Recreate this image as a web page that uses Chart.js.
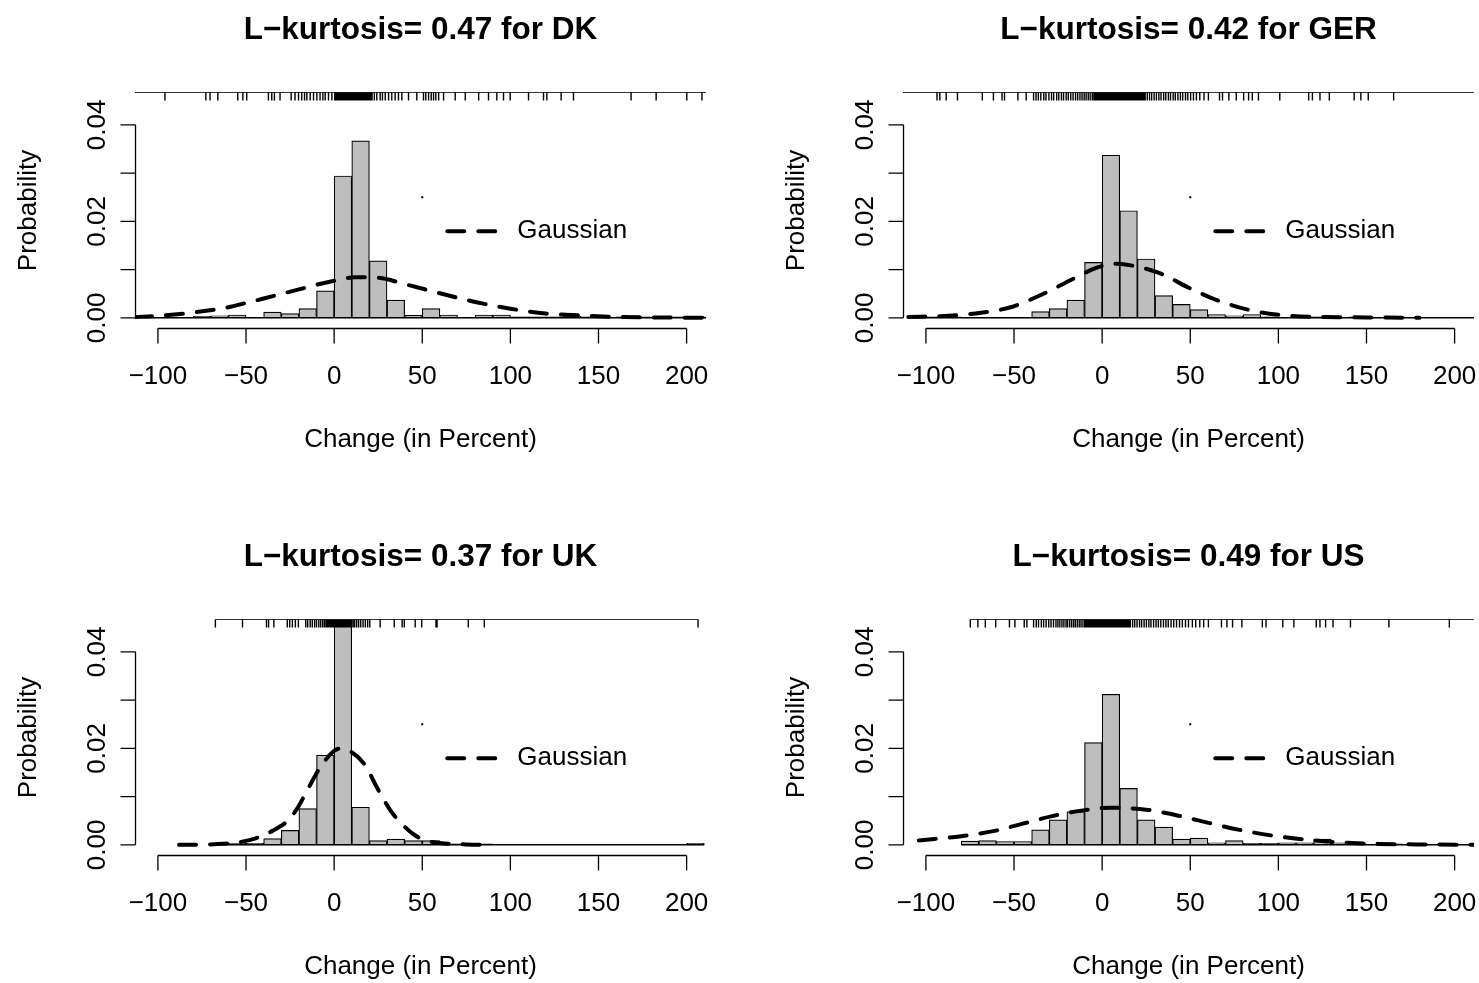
<!DOCTYPE html>
<html>
<head>
<meta charset="utf-8">
<script src="https://cdn.jsdelivr.net/npm/chart.js@4/dist/chart.umd.min.js"></script>
<style>
    html, body { margin: 0; padding: 0; background: #fff; }
    #wrap { position: relative; width: 1479px; height: 983px; }
    canvas { position: absolute; }
</style>
</head>
<body>
<div id="wrap">
    <canvas id="dk" width="711" height="456" style="left:0;top:0"></canvas>
    <canvas id="ger" width="711" height="456" style="left:768px;top:0"></canvas>
    <canvas id="uk" width="711" height="456" style="left:0;top:527px"></canvas>
    <canvas id="us" width="711" height="456" style="left:768px;top:527px"></canvas>
</div>
<script>

// axis ticks shared by all four panels
const TICKS_X = [-100, -50, 0, 50, 100, 150, 200]
const TICKS_Y = [0, 0.01, 0.02, 0.03, 0.04]
const LABELS_Y = ['0.00', '', '0.02', '', '0.04']

// DK
const DK_BREAKS = [-120, -110, -100, -90, -80, -70, -60, -50, -40, -30, -20, -10, 0, 10, 20, 30, 40, 50, 60, 70, 80, 90, 100, 110, 120, 130, 140, 150, 160, 170, 180, 190, 200, 210, 220]
const DK_DENSITY = [0.0001, 0.0001, 0.0001, 0.0001, 0.0003, 0.0004, 0.0006, 0.0001, 0.0012, 0.0009, 0.0019, 0.0056, 0.0294, 0.0367, 0.0118, 0.0037, 0.0005, 0.0019, 0.0006, 0.0001, 0.0006, 0.0006, 0.0002, 0.0002, 0.0002, 0.0003, 0.0002, 0.0001, 0.0002, 0.0002, 0.0001, 0.0002, 0.0003, 0.0001]
const DK_GAUSS_X = [-113, -100, -80, -60, -50, -40, -20, 0, 12, 25, 40, 60, 80, 100, 120, 140, 160, 180, 211]
const DK_GAUSS_Y = [0.0002, 0.0004, 0.0011, 0.0022, 0.0031, 0.0040, 0.0059, 0.0077, 0.0084, 0.0083, 0.0070, 0.0051, 0.0033, 0.0019, 0.0009, 0.0005, 0.0002, 0.0001, 0.0]
const DK_RUG = [-125, -96, -72.8, -70.4, -66, -54.7, -51.8, -49.6, -37.3, -35.4, -33.9, -30.7, -24.4, -22.2, -20.2, -18.4, -16.8, -15.5, -13.6, -11.7, -9.8, -8, -6.4, -5.1, -3.2, -1.3,
    0.3, 0.8, 1.2, 1.9, 2.3, 3.0, 3.4, 4.1, 4.5, 5.3, 5.6, 6.2, 6.9, 7.3, 8.0, 8.4, 9.2, 9.5, 10.1, 10.8, 11.2, 11.9, 12.5, 12.9, 13.6, 14.0, 14.7, 15.1, 15.8, 16.4, 16.8, 17.5, 17.9, 18.6, 19.0, 19.7, 20.3, 20.9, 21.5,
    22.8, 24.2, 26.1, 27.4, 29, 30.9, 32.7, 34.6, 36.5, 38.4, 42.2, 46.9, 50.7, 52, 53.6, 55.1, 56.4, 57.7, 59.3, 62.1, 68.7, 74.4, 82, 87.6, 92.3, 96.1, 99.9, 110.3, 118.8, 120.7, 128.8, 135.8, 168.5, 182.7, 200.1, 208.7, 260]

// GER
const GER_BREAKS = [-110, -100, -90, -80, -70, -60, -50, -40, -30, -20, -10, 0, 10, 20, 30, 40, 50, 60, 70, 80, 90, 100, 110, 120, 130, 140, 150, 160, 170, 180, 190, 200, 210, 220]
const GER_DENSITY = [0.0002, 0.0002, 0.0002, 0.0001, 0.0001, 0.0001, 0.0001, 0.0013, 0.0019, 0.0037, 0.0115, 0.0337, 0.0222, 0.0122, 0.0046, 0.0028, 0.0017, 0.0007, 0.0004, 0.0007, 0.0002, 0.0001, 0.0002, 0.0002, 0.0001, 0.0002, 0.0001, 0.0001, 0.0001, 0, 0, 0, 0]
const GER_GAUSS_X = [-110, -90, -72, -52, -35, -18, -3, 8, 20, 33, 50, 65, 85, 101, 120, 150, 180]
const GER_GAUSS_Y = [0.0002, 0.0004, 0.0009, 0.0022, 0.0047, 0.0078, 0.0104, 0.0112, 0.0106, 0.0092, 0.0061, 0.0037, 0.0015, 0.0006, 0.0002, 0.0001, 0.0]
const GER_RUG = [-130, -93.7, -92.1, -88.5, -82.1, -68, -61.7, -56.8, -55.4, -47.8, -43.1,
    -38.9, -37.5, -36.2, -34.8, -33.1, -31.9, -30.2, -28.7, -27.5, -25.8, -24.6, -23.1, -21.9, -20.4, -19.2, -17.8, -16.5, -15.1, -13.9, -12.6, -11.4, -10.2, -9.1, -7.9, -6.8, -5.6,
    -4.7, -3.9, -3.2, -2.5, -1.8, -1.1, -0.5, 0.2, 0.8, 1.5, 2.1, 2.8, 3.4, 4.0, 4.7, 5.3, 5.9, 6.6, 7.2, 7.8, 8.5, 9.1, 9.7, 10.4, 11.0, 11.6, 12.3, 12.9, 13.5, 14.2, 14.8, 15.4, 16.1, 16.7, 17.3, 18.0, 18.6, 19.2, 19.9, 20.5, 21.1, 21.8, 22.4, 23.0, 23.7, 24.4,
    25.6, 26.9, 28.1, 29.5, 30.8, 32.2, 33.4, 34.9, 36.1, 37.6, 38.8, 40.3, 41.5, 43.0, 44.4, 45.7, 47.3, 48.6, 50.2, 51.8, 53.5, 55.4, 57.8, 60.3,
    66.6, 68.3, 71.9, 76.1, 80.3, 83.1, 85.2, 88.7, 100.8, 117.2, 119.3, 123.6, 128.9, 143, 146.8, 151, 165.4, 230]

// UK
const UK_BREAKS = [-70, -60, -50, -40, -30, -20, -10, 0, 10, 20, 30, 40, 50, 60, 70, 80, 90, 100, 110, 120, 130, 140, 150, 160, 170, 180, 190, 200, 210]
const UK_DENSITY = [0.0002, 0.0003, 0.0003, 0.0013, 0.0030, 0.0075, 0.0186, 0.0600, 0.0078, 0.0009, 0.0012, 0.0009, 0.0009, 0.0002, 0.0002, 0.0002, 0, 0, 0, 0, 0, 0, 0, 0, 0, 0, 0, 0.0003]
const UK_GAUSS_X = [-88, -70, -55, -45, -35, -27, -21, -15, -8, 0, 4, 10, 17, 25, 32, 38, 45, 52, 60, 75, 90]
const UK_GAUSS_Y = [0.0, 0.0001, 0.0005, 0.0013, 0.0029, 0.0048, 0.0075, 0.0115, 0.0160, 0.0195, 0.0200, 0.0192, 0.0168, 0.0114, 0.0071, 0.0045, 0.0022, 0.0009, 0.0004, 0.0001, 0.0]
const UK_RUG = [-67.4, -52, -38.4, -37.2, -34.2, -26.6, -25.2, -23.7, -22, -20.3,
    -16.1, -15.0, -13.6, -12.4, -11.1, -10.0, -8.7, -7.6, -6.5, -5.5, -4.6, -3.8, -3.0, -2.3, -1.6, -0.9, -0.3, 0.3, 0.9, 1.6, 2.2, 2.9, 3.5, 4.2, 4.8, 5.5, 6.1, 6.8, 7.5, 8.3, 9.1, 9.9, 10.8, 11.7, 12.8, 13.9, 15.1, 16.4, 17.7, 19.0, 20.2,
    26.1, 34.1, 38.6, 39.8, 46, 49.7, 57.8, 58.4, 76.1, 85.2, 206.5]

// US
const US_BREAKS = [-80, -70, -60, -50, -40, -30, -20, -10, 0, 10, 20, 30, 40, 50, 60, 70, 80, 90, 100, 110, 120, 130, 140, 150, 160, 170, 180, 190, 200, 210, 220]
const US_DENSITY = [0.0008, 0.0009, 0.0007, 0.0007, 0.0031, 0.0052, 0.0069, 0.0212, 0.0312, 0.0117, 0.0052, 0.0037, 0.0012, 0.0014, 0.0004, 0.0009, 0.0003, 0.0003, 0.0004, 0.0004, 0.0012, 0.0004, 0.0002, 0.0001, 0.0002, 0.0001, 0.0001, 0.0002, 0.0001, 0.0001]
const US_GAUSS_X = [-104, -78, -61, -46, -29, -10, 5, 25, 44, 61, 78, 97, 115, 136, 157, 179, 211]
const US_GAUSS_Y = [0.0009, 0.0019, 0.0029, 0.0043, 0.0059, 0.0072, 0.0077, 0.0073, 0.0060, 0.0045, 0.0031, 0.0019, 0.0011, 0.0005, 0.0002, 0.0001, 0.0]
const US_RUG = [-74.8, -70.5, -66.3, -60.4, -52.6, -49.5, -44.2, -42.7, -38.9, -37.4, -36.1, -34.5, -33.2, -31.8, -30.3, -29.0, -27.6, -26.2,
    -25.1, -24.0, -22.8, -21.7, -20.5, -19.6, -18.4, -17.3, -16.2, -15.2, -14.1, -13.0, -12.0, -10.9, -9.9, -9.3,
    -8.6, -8.0, -7.3, -6.7, -6.0, -5.4, -4.7, -4.1, -3.4, -2.8, -2.1, -1.5, -0.8, -0.2, 0.5, 1.1, 1.8, 2.4, 3.1, 3.7, 4.4, 5.0, 5.7, 6.3, 7.0, 7.6, 8.3, 8.9, 9.6, 10.2, 10.9, 11.5, 12.2, 12.8, 13.5, 14.1, 14.8, 15.4, 16.0,
    17.3, 18.5, 19.8, 21.2, 22.4, 23.8, 25.1, 26.5, 27.7, 29.2, 30.6, 31.9, 33.3, 34.8, 36.2, 37.5, 39.1, 40.6, 42.2, 43.9, 45.5, 47.3, 49.0, 51.2, 53.1, 55.4, 57.6, 60.3,
    67.7, 70.8, 74, 79.3, 90.9, 93, 102.5, 108.8, 121.5, 123.6, 126.8, 131, 140.9, 162.7, 197, 240]

const FONT = '"Liberation Sans", Arial, sans-serif'
const GAUSS_DASH = [17, 14]
const GAUSS_WIDTH = 4

// R-style axes, rug, legend and title, drawn around the plot area
const rPlotPlugin = {

    id: 'rPlot',

    afterDatasetsDraw(chart, args, opts) {

        const ctx = chart.ctx
        const area = chart.chartArea
        const xs = chart.scales.x
        const ys = chart.scales.y
        const y0 = ys.getPixelForValue(0)

        ctx.save()
        ctx.beginPath()
        ctx.rect(area.left, area.top - 2, area.right - area.left, area.bottom - area.top + 2)
        ctx.clip()

        // empty histogram cells show as a flat line
        ctx.strokeStyle = '#000'
        ctx.lineWidth = 1.5
        ctx.beginPath()
        ctx.moveTo(xs.getPixelForValue(opts.breaks[0]), y0)
        ctx.lineTo(xs.getPixelForValue(opts.breaks[opts.breaks.length - 1]), y0)
        ctx.stroke()

        // rug on top side
        const rugY = area.top - 0.5
        ctx.strokeStyle = '#333'
        ctx.lineWidth = 1
        ctx.beginPath()
        ctx.moveTo(xs.getPixelForValue(Math.min(...opts.rug)), rugY)
        ctx.lineTo(xs.getPixelForValue(Math.max(...opts.rug)), rugY)
        ctx.stroke()
        ctx.strokeStyle = '#000'
        ctx.lineWidth = 1.4
        ctx.beginPath()
        opts.rug.forEach(v => {
            const px = xs.getPixelForValue(v)
            ctx.moveTo(px, rugY)
            ctx.lineTo(px, rugY + 8)
        })
        ctx.stroke()
        ctx.restore()

        ctx.save()
        ctx.strokeStyle = '#000'
        ctx.fillStyle = '#000'
        ctx.lineWidth = 1.3

        // x axis
        const ax = area.bottom + 0.5
        ctx.beginPath()
        ctx.moveTo(xs.getPixelForValue(TICKS_X[0]), ax)
        ctx.lineTo(xs.getPixelForValue(TICKS_X[TICKS_X.length - 1]), ax)
        TICKS_X.forEach(t => {
            const px = xs.getPixelForValue(t)
            ctx.moveTo(px, ax)
            ctx.lineTo(px, ax + 15)
        })
        ctx.stroke()
        ctx.font = '26px ' + FONT
        ctx.textAlign = 'center'
        ctx.textBaseline = 'middle'
        TICKS_X.forEach(t => {
            ctx.fillText(String(t).replace('-', '\u2212'), xs.getPixelForValue(t), area.bottom + 49)
        })

        // y axis
        const ay = area.left + 0.5
        ctx.beginPath()
        ctx.moveTo(ay, ys.getPixelForValue(TICKS_Y[0]))
        ctx.lineTo(ay, ys.getPixelForValue(TICKS_Y[TICKS_Y.length - 1]))
        TICKS_Y.forEach(t => {
            const py = ys.getPixelForValue(t)
            ctx.moveTo(ay, py)
            ctx.lineTo(ay - 15, py)
        })
        ctx.stroke()
        TICKS_Y.forEach((t, i) => {
            if (!LABELS_Y[i]) return
            ctx.save()
            ctx.translate(area.left - 37, ys.getPixelForValue(t))
            ctx.rotate(-Math.PI / 2)
            ctx.fillText(LABELS_Y[i], 0, 0)
            ctx.restore()
        })

        // axis titles
        const midX = (area.left + area.right) / 2
        ctx.fillText('Change (in Percent)', midX, area.bottom + 112)
        ctx.save()
        ctx.translate(area.left - 106, (area.top + area.bottom) / 2)
        ctx.rotate(-Math.PI / 2)
        ctx.fillText('Probability', 0, 0)
        ctx.restore()

        // main title
        ctx.font = 'bold 31.5px ' + FONT
        ctx.fillText(opts.title, midX, area.top - 63)

        // legend, anchored at (50, 0.025) in data units
        const lx = xs.getPixelForValue(50)
        const ly = ys.getPixelForValue(0.025)
        ctx.fillRect(lx - 1, ly - 1, 2, 2)
        ctx.lineWidth = GAUSS_WIDTH
        ctx.lineCap = 'round'
        ctx.setLineDash(GAUSS_DASH)
        ctx.beginPath()
        ctx.moveTo(lx + 25, ly + 34)
        ctx.lineTo(lx + 73, ly + 34)
        ctx.stroke()
        ctx.setLineDash([])
        ctx.font = '26px ' + FONT
        ctx.textAlign = 'left'
        ctx.fillText('Gaussian', lx + 95, ly + 34)

        ctx.restore()
    }
}

function buildPanel(id, title, breaks, density, gaussX, gaussY, rug) {

    const bars = density.map((d, i) => ({ x: (breaks[i] + breaks[i + 1]) / 2, y: d }))
    const gauss = gaussX.map((x, i) => ({ x, y: gaussY[i] }))

    return new Chart(
        document.getElementById(id),
        {
            type: 'bar',

            data: {
                datasets: [
                    {
                        type: 'line',
                        data: gauss,
                        borderColor: '#000',
                        borderWidth: GAUSS_WIDTH,
                        borderDash: GAUSS_DASH,
                        borderCapStyle: 'round',
                        cubicInterpolationMode: 'monotone',
                        pointRadius: 0,
                        fill: false,
                        order: 0
                    },
                    {
                        data: bars,
                        backgroundColor: '#bebebe',
                        borderColor: '#000',
                        borderWidth: 1.2,
                        borderSkipped: false,
                        barPercentage: 1,
                        categoryPercentage: 1,
                        order: 1
                    }
                ]
            },

            options: {
                responsive: false,
                animation: false,
                devicePixelRatio: 1,
                events: [],
                layout: {
                    padding: { left: 135, top: 93, right: 5, bottom: 128 }
                },
                scales: {
                    x: { type: 'linear', min: -113, max: 211, offset: false, display: false },
                    y: { type: 'linear', min: -0.0021, max: 0.0466, display: false }
                },
                plugins: {
                    legend: { display: false },
                    tooltip: { enabled: false },
                    rPlot: { title, breaks, rug }
                }
            },

            plugins: [rPlotPlugin]
        }
    )
}

buildPanel('dk', 'L\u2212kurtosis= 0.47 for DK', DK_BREAKS, DK_DENSITY, DK_GAUSS_X, DK_GAUSS_Y, DK_RUG)
buildPanel('ger', 'L\u2212kurtosis= 0.42 for GER', GER_BREAKS, GER_DENSITY, GER_GAUSS_X, GER_GAUSS_Y, GER_RUG)
buildPanel('uk', 'L\u2212kurtosis= 0.37 for UK', UK_BREAKS, UK_DENSITY, UK_GAUSS_X, UK_GAUSS_Y, UK_RUG)
buildPanel('us', 'L\u2212kurtosis= 0.49 for US', US_BREAKS, US_DENSITY, US_GAUSS_X, US_GAUSS_Y, US_RUG)

</script>
</body>
</html>
